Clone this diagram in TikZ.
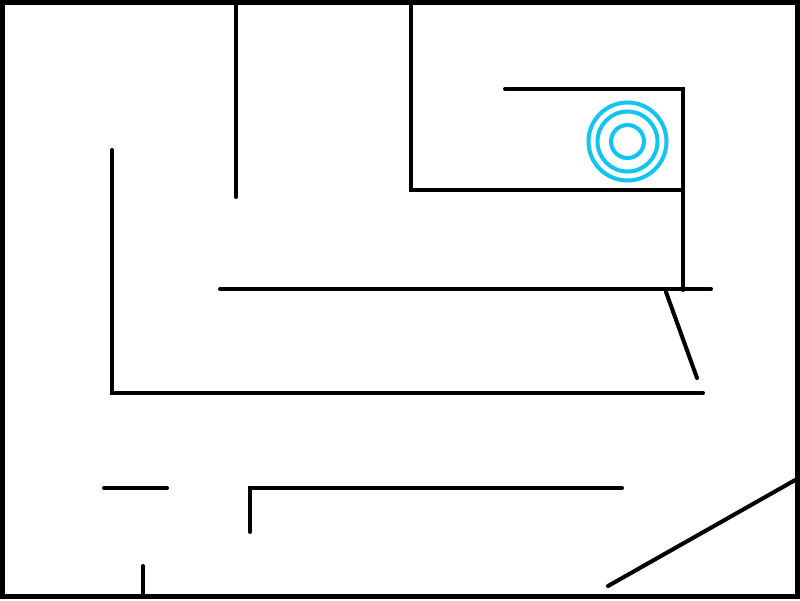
\documentclass[tikz,border=0pt]{standalone}
\definecolor{ccyan}{HTML}{12C4F2}
\tikzset{
  wall/.style={draw=black, line width=2.3pt, line cap=round},
  outerwall/.style={draw=black, line width=2.9pt},
  ring/.style={draw=ccyan, line width=2.3pt},
}

\begin{document}
\begin{tikzpicture}[x=0.02cm, y=-0.02cm]
  \useasboundingbox (0,0) rectangle (800,600);
  \draw[outerwall] (2.5,2.5) rectangle (797.5,596.5);
  % upper part
  \draw[wall] (236,3) -- (236,197);
  \draw[wall] (411,3) -- (411,190) -- (683,190);
  \draw[wall] (505,89) -- (683,89) -- (683,290);
  \draw[wall] (220,289) -- (711,289);
  \draw[wall] (666,292) -- (697,378);
  \draw[wall] (112,150) -- (112,393) -- (703,393);
  % lower part
  \draw[wall] (104,488) -- (167,488);
  \draw[wall] (250,532) -- (250,488) -- (622,488);
  \draw[wall] (143,566) -- (143,597);
  \draw[wall] (608,586) -- (797,479);
  % goal
  \foreach \r in {39,30,16.5}
    \draw[ring] (627.5,141.5) circle (\r);
\end{tikzpicture}
\end{document}
